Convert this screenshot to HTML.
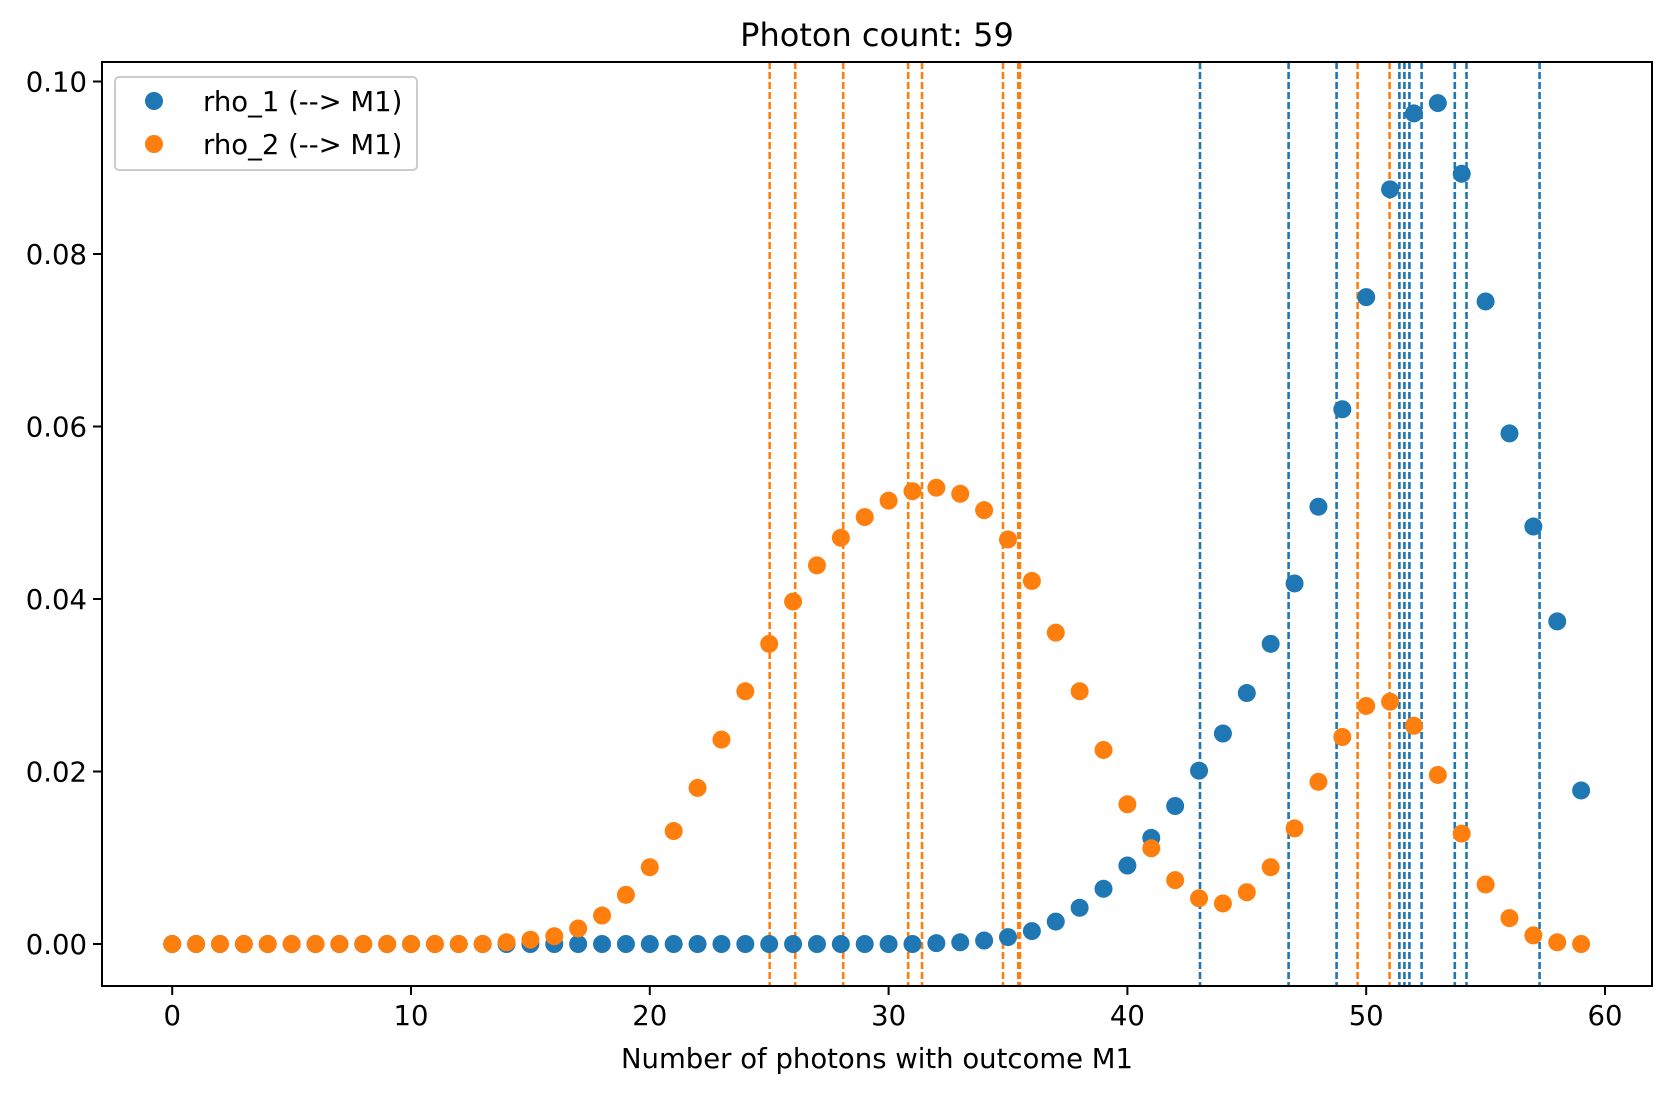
<!DOCTYPE html>
<html><head><meta charset="utf-8"><style>
body{margin:0;background:#fff}
svg text{font-family:"DejaVu Sans","Liberation Sans",sans-serif;fill:#000}
</style></head><body>
<svg id="chart" width="1671" height="1093" viewBox="0 0 1671 1093" xmlns="http://www.w3.org/2000/svg">
<rect width="1671" height="1093" fill="#fff"/>
<g id="vlines"></g><g id="pts"></g><g id="axes"></g>
</svg>
<script>
const xs = Array.from({length:60},(_,i)=>i);
const rho1 = [0,0,0,0,0,0,0,0,0,0,0,0,0,0,0,0,0,0,0,0,0,0,0,0,0,0,0,0,0,0,0,0,0.0001,0.0002,0.0004,0.0008,0.0015,0.0026,0.0042,0.0064,0.0091,0.0123,0.016,0.0201,0.0244,0.0291,0.0348,0.0418,0.0507,0.062,0.075,0.0875,0.0963,0.0975,0.0893,0.0745,0.0592,0.0484,0.0374,0.0178];
const rho2 = [0,0,0,0,0,0,0,0,0,0,0,0,0,0,0.0002,0.0005,0.0009,0.0018,0.0033,0.0057,0.0089,0.0131,0.0181,0.0237,0.0293,0.0348,0.0397,0.0439,0.0471,0.0495,0.0514,0.0525,0.0529,0.0522,0.0503,0.0469,0.0421,0.0361,0.0293,0.0225,0.0162,0.0111,0.0074,0.0053,0.0047,0.006,0.0089,0.0134,0.0188,0.024,0.0276,0.0281,0.0253,0.0196,0.0128,0.0069,0.003,0.001,0.0002,0];
const blueLines = [43.04,46.75,48.76,51.39,51.6,51.81,52.32,53.71,54.2,57.26];
const orangeLines = [25.02,26.09,28.1,30.82,31.4,34.79,35.43,35.5,49.64,50.98];
const xTicks = [0,10,20,30,40,50,60];
const yTicks = [0,0.02,0.04,0.06,0.08,0.10];
const L=102,R=1652,T=62,B=986;
const X=v=>172.2+v*23.88;
const Y=v=>944-v*8625;
const NS="http://www.w3.org/2000/svg";
function mk(tag,attrs,parent,text){const e=document.createElementNS(NS,tag);for(const k in attrs)e.setAttribute(k,attrs[k]);if(text!==undefined)e.textContent=text;parent.appendChild(e);return e;}
const vl=document.getElementById('vlines'),pts=document.getElementById('pts'),ax=document.getElementById('axes');
blueLines.forEach(v=>{const e=mk('line',{x1:X(v),x2:X(v),y1:T,y2:B,stroke:'#1f77b4','stroke-width':2.6,'stroke-dasharray':'7,3'},vl);

});
orangeLines.forEach(v=>{const e=mk('line',{x1:X(v),x2:X(v),y1:T,y2:B,stroke:'#ff7f0e','stroke-width':2.6,'stroke-dasharray':'7,3'},vl);

});
xs.forEach((x,i)=>{const e=mk('circle',{cx:X(x),cy:Y(rho1[i]),r:9,fill:'#1f77b4'},pts);

});
xs.forEach((x,i)=>{const e=mk('circle',{cx:X(x),cy:Y(rho2[i]),r:9,fill:'#ff7f0e'},pts);

});
const frame=mk('rect',{x:L,y:T,width:R-L,height:B-T,fill:'none',stroke:'#000','stroke-width':2},ax);


xTicks.forEach(v=>{mk('line',{x1:X(v),x2:X(v),y1:B,y2:B+9,stroke:'#000','stroke-width':2},ax);
const t=mk('text',{x:X(v),y:B+39,'text-anchor':'middle','font-size':27.5},ax,String(v));

});
yTicks.forEach(v=>{mk('line',{x1:L-9,x2:L,y1:Y(v),y2:Y(v),stroke:'#000','stroke-width':2},ax);
const t=mk('text',{x:L-15,y:Y(v)+10,'text-anchor':'end','font-size':27.5},ax,v.toFixed(2));

});
const xt=mk('text',{x:(L+R)/2,y:1068,'text-anchor':'middle','font-size':27.5},ax,'Number of photons with outcome M1');


const ti=mk('text',{x:(L+R)/2,y:46,'text-anchor':'middle','font-size':32},ax,'Photon count: 59');


const lg=mk('g',{},ax);


mk('rect',{x:115,y:77,width:302,height:93,rx:4,fill:'#fff','fill-opacity':0.8,stroke:'#ccc','stroke-width':2},lg);
mk('circle',{cx:154,cy:101,r:9,fill:'#1f77b4'},lg);
const l1=mk('text',{x:203,y:111,'font-size':27.5},lg,'rho_1 (--> M1)');


mk('circle',{cx:154,cy:144,r:9,fill:'#ff7f0e'},lg);
const l2=mk('text',{x:203,y:154,'font-size':27.5},lg,'rho_2 (--> M1)');


</script>
</body></html>
